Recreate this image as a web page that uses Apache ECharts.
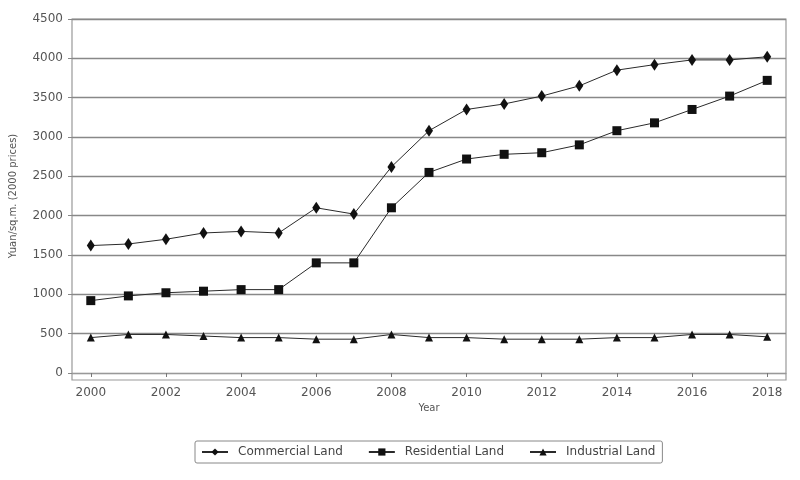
<!DOCTYPE html>
<html><head><meta charset="utf-8">
<script src="https://cdn.jsdelivr.net/npm/echarts@6/dist/echarts.min.js"></script>
<style>html,body{margin:0;padding:0;background:#fff}#c{width:800px;height:480px}</style>
</head><body><div id="c"></div>
<script>
const years = ['2000','2001','2002','2003','2004','2005','2006','2007','2008','2009','2010','2011','2012','2013','2014','2015','2016','2017','2018'];
const commercial = [1620,1640,1700,1780,1800,1780,2100,2020,2620,3080,3350,3420,3520,3650,3850,3920,3980,3980,4020];
const residential = [920,980,1020,1040,1060,1060,1400,1400,2100,2550,2720,2780,2800,2900,3080,3180,3350,3520,3720];
const industrial = [450,490,490,470,450,450,430,430,490,450,450,430,430,430,450,450,490,490,460];
const yTicks = {min:0, max:4500, interval:500};

const font = 'DejaVu Sans';
const lineStyle = {color:'#2a2a2a', width:1};
const chart = echarts.init(document.getElementById('c'), null, {renderer:'canvas'});
function s(name, data, symbol, size){
  return {name, type:'line', data, symbol, symbolSize:size, showSymbol:true,
    lineStyle, itemStyle:{color:'#111'}, animation:false};
}
chart.setOption({
  animation:false,
  textStyle:{fontFamily:font},
  grid:{left:72, right:14, top:19, bottom:107},
  graphic:[{type:'rect', shape:{x:72, y:19, width:714, height:361}, style:{fill:'none', stroke:'#999', lineWidth:1.2}, silent:true, z:-1}],
  xAxis:{type:'category', data:years, boundaryGap:true, offset:7,
    name:'Year', nameLocation:'middle', nameGap:22,
    nameTextStyle:{fontFamily:font, fontSize:10, color:'#555'},
    axisLine:{show:true, lineStyle:{color:'#999', width:1.2}},
    axisTick:{show:true, alignWithLabel:true, interval:1, length:4, lineStyle:{color:'#777'}},
    axisLabel:{interval:1, fontFamily:font, fontSize:12, color:'#555', margin:7},
    splitLine:{show:false}},
  yAxis:{type:'value', min:yTicks.min, max:yTicks.max, interval:yTicks.interval,
    name:'Yuan/sq.m. (2000 prices)', nameLocation:'middle', nameGap:54, nameRotate:90,
    nameTextStyle:{fontFamily:font, fontSize:10, color:'#555'},
    axisLine:{show:false},
    axisTick:{show:true, length:4, lineStyle:{color:'#888'}},
    axisLabel:{fontFamily:font, fontSize:12, color:'#555', margin:9, formatter:v => String(v)},
    splitLine:{show:true, lineStyle:{color:'#888', width:1.4}}},
  legend:{left:195, top:441, orient:'horizontal',
    borderColor:'#888', borderWidth:1, borderRadius:2, padding:[5,7,5,6],
    itemGap:25, itemWidth:26, itemHeight:9,
    textStyle:{fontFamily:font, fontSize:12, color:'#444', padding:[0,0,0,5]},
    data:['Commercial Land','Residential Land','Industrial Land']},
  series:[
    s('Commercial Land', commercial, 'diamond', [8,12]),
    s('Residential Land', residential, 'rect', 9),
    s('Industrial Land', industrial, 'triangle', 8)
  ]
});
</script></body></html>
